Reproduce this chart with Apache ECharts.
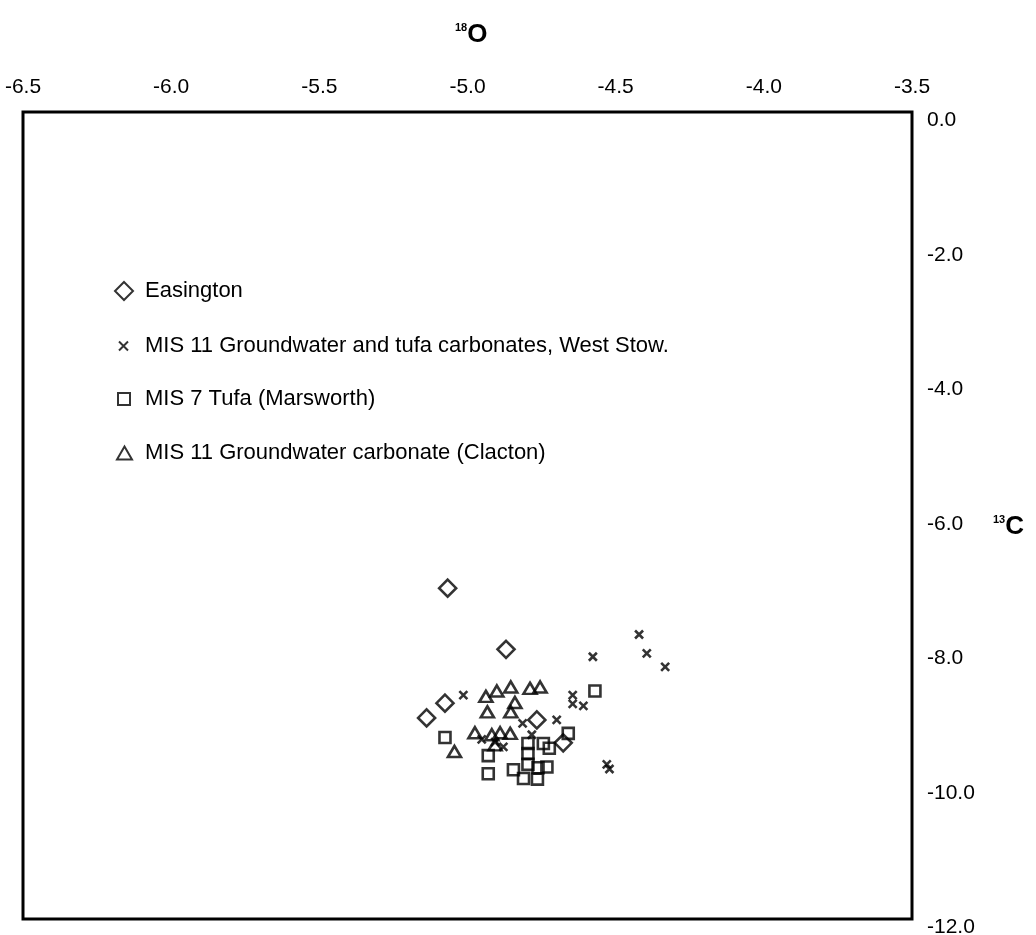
<!DOCTYPE html>
<html><head><meta charset="utf-8">
<script src="https://cdn.jsdelivr.net/npm/echarts@6/dist/echarts.min.js"></script>
<style>html,body{margin:0;padding:0;background:#fff}#c{width:1036px;height:935px}</style>
</head><body><div id="c"></div>
<script>
// Series names
const seriesNames = [
  'Easington',
  'MIS 11 Groundwater and tufa carbonates, West Stow.',
  'MIS 7 Tufa (Marsworth)',
  'MIS 11 Groundwater carbonate (Clacton)'
];
// Easington (d18O, d13C)
const easingtonX = [-5.067, -4.870, -5.076, -5.138, -4.766, -4.677];
const easingtonY = [-7.08, -7.99, -8.79, -9.01, -9.04, -9.38];
// West Stow
const westStowX = [-4.421, -4.577, -4.395, -4.333, -5.014, -4.645, -4.645, -4.609, -4.699, -4.814, -4.530, -4.521, -4.952, -4.879, -4.907, -4.783];
const westStowY = [-7.77, -8.10, -8.05, -8.25, -8.67, -8.67, -8.80, -8.83, -9.04, -9.09, -9.70, -9.77, -9.33, -9.44, -9.37, -9.26];
// Marsworth
const marsworthX = [-4.570, -5.076, -4.660, -4.930, -4.930, -4.796, -4.796, -4.796, -4.744, -4.724, -4.732, -4.762, -4.845, -4.811, -4.764];
const marsworthY = [-8.61, -9.30, -9.24, -9.57, -9.84, -9.39, -9.54, -9.70, -9.39, -9.46, -9.74, -9.75, -9.78, -9.91, -9.92];
// Clacton
const clactonX = [-4.854, -4.901, -4.789, -4.755, -4.938, -4.840, -4.933, -4.854, -4.975, -4.918, -4.890, -4.856, -5.044, -4.907];
const clactonY = [-8.55, -8.61, -8.57, -8.55, -8.69, -8.78, -8.92, -8.92, -9.23, -9.26, -9.23, -9.24, -9.51, -9.41];
// Axis tick values
const xTicks = [-6.5, -6.0, -5.5, -5.0, -4.5, -4.0, -3.5];
const yTicks = [0, -2, -4, -6, -8, -10, -12];

const pair = (xs, ys) => xs.map((x, i) => [x, ys[i]]);
const FONT = 'Liberation Sans, Arial, sans-serif';
const crossPath = 'path://M0,0L10,10M10,0L0,10';
const hollow = {color: 'rgba(0,0,0,0)', borderColor: '#000', borderWidth: 2.6};

const chart = echarts.init(document.getElementById('c'), null, {renderer: 'canvas'});
const legendRow = (name, left, top, w, h, padLeft) => ({
  data: [name], left: left, top: top, orient: 'vertical', selectedMode: false,
  itemWidth: w, itemHeight: h,
  textStyle: {fontFamily: FONT, fontSize: 22, color: '#000', padding: [0, 0, 0, padLeft]}
});
chart.setOption({
  animation: false,
  backgroundColor: '#fff',
  grid: {left: 23, right: 124, top: 112, bottom: 16, outerBoundsMode: 'none', containLabel: false,
    show: true, borderColor: '#000', borderWidth: 3, backgroundColor: 'transparent'},
  xAxis: {
    type: 'value', position: 'top', min: -6.5, max: -3.5, interval: 0.5,
    axisLine: {show: false}, axisTick: {show: false}, splitLine: {show: false},
    axisLabel: {fontFamily: FONT, fontSize: 21, color: '#000', margin: 14,
      formatter: v => xTicks.includes(+v.toFixed(1)) ? v.toFixed(1) : ''}
  },
  yAxis: {
    type: 'value', position: 'right', min: -12, max: 0, interval: 2,
    axisLine: {show: false}, axisTick: {show: false}, splitLine: {show: false},
    axisLabel: {fontFamily: FONT, fontSize: 21, color: '#000', margin: 15, align: 'left',
      verticalAlign: 'top', lineHeight: 17,
      formatter: v => yTicks.includes(v) ? v.toFixed(1) : ''}
  },
  legend: [
    legendRow(seriesNames[0], 109, 275, 18, 18, 7),
    legendRow(seriesNames[1], 113, 330, 9, 9, 12),
    legendRow(seriesNames[2], 112, 383, 12, 12, 10),
    legendRow(seriesNames[3], 111, 437, 15, 13, 8)
  ],
  graphic: [
    {type: 'text', x: 455, y: 35, style: {text: '{s|18}{b|O}', textVerticalAlign: 'middle',
      rich: {s: {fontFamily: FONT, fontSize: 11, fontWeight: 'bold', verticalAlign: 'top', fill: '#000'},
             b: {fontFamily: FONT, fontSize: 26, fontWeight: 'bold', fill: '#000'}}}},
    {type: 'text', x: 993, y: 527, style: {text: '{s|13}{b|C}', textVerticalAlign: 'middle',
      rich: {s: {fontFamily: FONT, fontSize: 11, fontWeight: 'bold', verticalAlign: 'top', fill: '#000'},
             b: {fontFamily: FONT, fontSize: 26, fontWeight: 'bold', fill: '#000'}}}}
  ],
  series: [
    {name: seriesNames[0], type: 'scatter', symbol: 'diamond', symbolSize: 17, itemStyle: hollow, data: pair(easingtonX, easingtonY)},
    {name: seriesNames[1], type: 'scatter', symbol: crossPath, symbolSize: 8, itemStyle: hollow, data: pair(westStowX, westStowY)},
    {name: seriesNames[2], type: 'scatter', symbol: 'rect', symbolSize: 11, itemStyle: hollow, data: pair(marsworthX, marsworthY)},
    {name: seriesNames[3], type: 'scatter', symbol: 'triangle', symbolSize: [13, 11], itemStyle: hollow, data: pair(clactonX, clactonY)}
  ]
});
</script></body></html>
